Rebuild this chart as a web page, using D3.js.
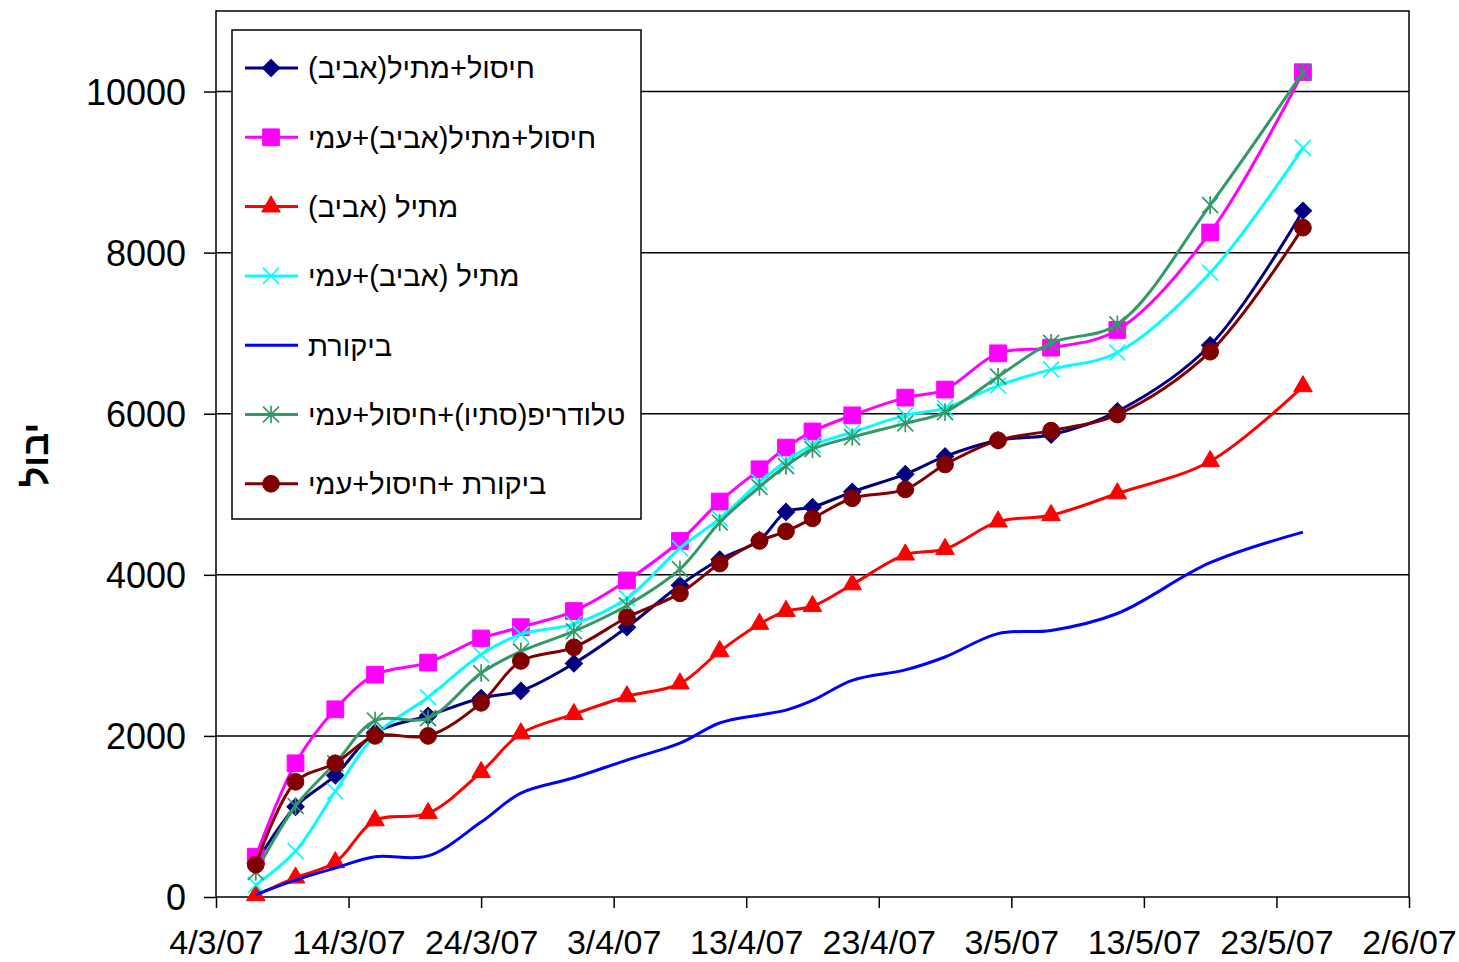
<!DOCTYPE html>
<html>
<head>
<meta charset="utf-8">
<script src="https://cdn.jsdelivr.net/npm/d3@7"></script>
<style>
	body { margin: 0; background: #fff; }
	svg text { font-family: "Liberation Sans", Arial, "DejaVu Sans", sans-serif; }
</style>
</head>
<body>
<script>
// dates of the measurements (d/m/yy)
const dates = ["7/3/07", "10/3/07", "13/3/07", "16/3/07", "20/3/07", "24/3/07", "27/3/07", "31/3/07",
	"4/4/07", "8/4/07", "11/4/07", "14/4/07", "16/4/07", "18/4/07", "21/4/07", "25/4/07",
	"28/4/07", "2/5/07", "6/5/07", "11/5/07", "18/5/07", "25/5/07"];
const xTicks = ["4/3/07", "14/3/07", "24/3/07", "3/4/07", "13/4/07", "23/4/07", "3/5/07", "13/5/07", "23/5/07", "2/6/07"];
const yTicks = [0, 2000, 4000, 6000, 8000, 10000];
const yTitle = "יבול";

const names = [
	"חיסול+מתיל(אביב)",
	"חיסול+מתיל(אביב)+עמי",
	"מתיל (אביב)",
	"מתיל (אביב)+עמי",
	"ביקורת",
	"טלודריפ(סתיו)+חיסול+עמי",
	"ביקורת +חיסול+עמי"
];
const navyVals = [420, 1120, 1510, 2040, 2250, 2470, 2560, 2900, 3350, 3870, 4190, 4430, 4780, 4840, 5030, 5250, 5470, 5670, 5740, 6030, 6850, 8520];
const magentaVals = [500, 1660, 2330, 2760, 2910, 3210, 3350, 3550, 3930, 4420, 4910, 5310, 5580, 5780, 5980, 6200, 6300, 6750, 6820, 7040, 8250, 10240];
const redVals = [20, 240, 430, 950, 1040, 1550, 2030, 2270, 2490, 2650, 3050, 3390, 3550, 3610, 3880, 4250, 4320, 4660, 4740, 5010, 5410, 6340];
const cyanVals = [150, 570, 1310, 2010, 2480, 3010, 3260, 3390, 3710, 4330, 4700, 5150, 5410, 5610, 5770, 5980, 6070, 6350, 6550, 6760, 7750, 9300];
const blueVals = [30, 210, 360, 500, 510, 930, 1290, 1480, 1700, 1910, 2160, 2260, 2320, 2440, 2690, 2820, 2980, 3270, 3310, 3520, 4150, 4530];
const greenVals = [310, 1130, 1660, 2190, 2220, 2780, 3050, 3300, 3620, 4070, 4650, 5090, 5350, 5560, 5710, 5880, 6020, 6460, 6880, 7110, 8590, 10240];
const maroonVals = [400, 1430, 1660, 2000, 2000, 2410, 2930, 3100, 3470, 3770, 4140, 4420, 4540, 4700, 4950, 5060, 5370, 5670, 5790, 5990, 6770, 8310];

const colors = ["#000080", "#ff00ff", "#ff0000", "#00ffff", "#0000ff", "#339966", "#800000"];
const values = [navyVals, magentaVals, redVals, cyanVals, blueVals, greenVals, maroonVals];

// excel style star marker: an x with a vertical bar through it
const symbolStar = {
	draw(ctx, size) {
		const r = Math.sqrt(size) * 0.55;
		ctx.moveTo(-r, -r); ctx.lineTo(r, r);
		ctx.moveTo(-r, r); ctx.lineTo(r, -r);
		ctx.moveTo(0, -r * 1.1); ctx.lineTo(0, r * 1.1);
	}
};
const symbolTimes = {
	draw(ctx, size) {
		const r = Math.sqrt(size) * 0.55;
		ctx.moveTo(-r, -r); ctx.lineTo(r, r);
		ctx.moveTo(-r, r); ctx.lineTo(r, -r);
	}
};
const markers = [
	{ type: d3.symbolSquare, size: 150, rotate: 45, fill: true },
	{ type: d3.symbolSquare, size: 280, rotate: 0, fill: true },
	{ type: d3.symbolTriangle, size: 150, rotate: 0, fill: true },
	{ type: symbolTimes, size: 210, rotate: 0, fill: false },
	null,
	{ type: symbolStar, size: 210, rotate: 0, fill: false },
	{ type: d3.symbolCircle, size: 220, rotate: 0, fill: true }
];

const parse = d3.timeParse("%d/%m/%y");
const fmt = d3.timeFormat("%-d/%-m/%y");

const width = 1459, height = 962;
const plotLeft = 216, plotRight = 1409, plotTop = 11, plotBottom = 897;

const svg = d3.select("body").append("svg")
	.attr("width", width)
	.attr("height", height);

const x = d3.scaleTime()
	.domain([parse(xTicks[0]), parse(xTicks[xTicks.length - 1])])
	.range([plotLeft, plotRight]);
const y = d3.scaleLinear()
	.domain([0, 11000])
	.range([plotBottom, plotTop]);

// grid lines
svg.append("g")
	.selectAll("line")
	.data(yTicks.slice(1))
	.enter()
	.append("line")
	.attr("x1", plotLeft)
	.attr("x2", plotRight)
	.attr("y1", (d) => y(d))
	.attr("y2", (d) => y(d))
	.attr("stroke", "#000")
	.attr("stroke-width", 1.5);

// plot frame
svg.append("rect")
	.attr("x", plotLeft)
	.attr("y", plotTop)
	.attr("width", plotRight - plotLeft)
	.attr("height", plotBottom - plotTop)
	.attr("fill", "none")
	.attr("stroke", "#000")
	.attr("stroke-width", 1.5);

const yAxis = svg.append("g")
	.attr("transform", "translate(" + plotLeft + ",0)")
	.call(d3.axisLeft(y).tickValues(yTicks).tickSize(12).tickSizeOuter(0).tickPadding(18).tickFormat(d3.format("d")));
const xAxis = svg.append("g")
	.attr("transform", "translate(0," + plotBottom + ")")
	.call(d3.axisBottom(x).tickValues(xTicks.map(parse)).tickSize(11).tickSizeOuter(0).tickPadding(10).tickFormat(fmt));

[yAxis, xAxis].forEach((g) => {
	g.select(".domain").remove();
	g.selectAll("line").attr("stroke", "#000").attr("stroke-width", 1.5);
	g.selectAll("text")
		.attr("fill", "#000")
		.style("font-family", '"Liberation Sans", Arial, sans-serif')
		.style("font-size", "34px");
});
yAxis.selectAll("text").attr("dy", "0.36em").style("font-size", "36px");
xAxis.selectAll("text").attr("dy", "1.05em");

svg.append("text")
	.attr("transform", "translate(48,455) rotate(-90)")
	.attr("text-anchor", "middle")
	.attr("direction", "rtl")
	.style("font-size", "36px")
	.style("font-weight", "bold")
	.text(yTitle);

const line = d3.line()
	.x((d) => x(d.date))
	.y((d) => y(d.v))
	.curve(d3.curveCatmullRom.alpha(0.5));

const series = names.map((name, i) => ({
	name: name,
	color: colors[i],
	marker: markers[i],
	points: dates.map((dt, j) => ({ date: parse(dt), v: values[i][j] }))
}));

const drawMarker = (sel, m, color) => {
	sel.append("path")
		.attr("d", d3.symbol().type(m.type).size(m.size))
		.attr("transform", (d) => d.tr + (m.rotate ? " rotate(" + m.rotate + ")" : ""))
		.attr("fill", m.fill ? color : "none")
		.attr("stroke", color)
		.attr("stroke-width", m.fill ? 1 : 1.7);
};

series.forEach((s) => {
	const g = svg.append("g");
	g.append("path")
		.attr("d", line(s.points))
		.attr("fill", "none")
		.attr("stroke", s.color)
		.attr("stroke-width", 3);
	if (s.marker) {
		const pts = g.selectAll("g")
			.data(s.points.map((p) => ({ tr: "translate(" + x(p.date) + "," + y(p.v) + ")" })))
			.enter()
			.append("g");
		drawMarker(pts, s.marker, s.color);
	}
});

// legend
const lx = 232, ly = 30, lw = 409, lh = 489;
const legend = svg.append("g");
legend.append("rect")
	.attr("x", lx)
	.attr("y", ly)
	.attr("width", lw)
	.attr("height", lh)
	.attr("fill", "#fff")
	.attr("stroke", "#000")
	.attr("stroke-width", 1.5);

series.forEach((s, i) => {
	const cy = 68 + i * 69.3;
	const row = legend.append("g");
	row.append("line")
		.attr("x1", 245)
		.attr("x2", 298)
		.attr("y1", cy)
		.attr("y2", cy)
		.attr("stroke", s.color)
		.attr("stroke-width", 3);
	if (s.marker) {
		const m = row.selectAll("g").data([{ tr: "translate(271," + cy + ")" }]).enter().append("g");
		drawMarker(m, s.marker, s.color);
	}
	row.append("text")
		.attr("x", 308)
		.attr("y", cy)
		.attr("dy", "0.36em")
		.attr("direction", "rtl")
		.attr("text-anchor", "end")
		.style("font-size", "29px")
		.text(s.name);
});
</script>
</body>
</html>
